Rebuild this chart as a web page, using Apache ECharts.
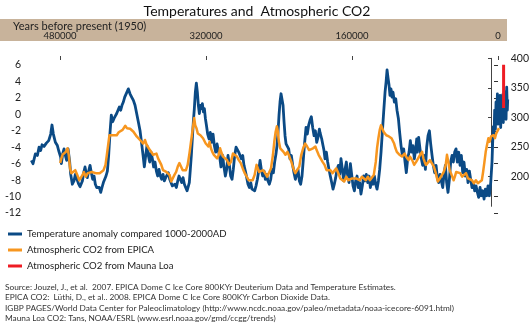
<!DOCTYPE html>
<html><head><meta charset="utf-8">
<script src="https://cdn.jsdelivr.net/npm/echarts@6/dist/echarts.min.js"></script>
<style>html,body{margin:0;padding:0;background:#fff}#c{width:532px;height:325px}</style>
</head><body><div id="c"></div>
<script>
// ages in thousand years before present (as drawn on the chart's axis)
const tempAge = [511.4,509.6,507.0,504.8,503.0,501.2,499.7,497.5,495.0,492.4,490.2,488.8,487.3,485.1,482.9,481.5,479.3,478.5,477.1,475.6,474.2,472.7,471.2,469.4,468.3,466.5,464.7,463.2,461.4,459.5,458.1,456.6,455.5,454.1,452.6,451.2,450.1,448.6,447.1,445.7,444.2,442.7,441.3,439.8,438.4,436.9,435.4,434.0,432.5,431.1,429.6,428.1,426.7,425.2,423.8,422.3,420.8,419.4,417.9,416.4,415.0,413.5,412.1,410.6,409.1,
407.3,405.1,403.3,401.5,399.6,397.8,396.0,394.2,392.3,390.5,389.0,387.6,386.1,384.7,383.2,381.7,380.3,378.8,377.4,375.9,374.4,373.0,371.5,370.0,368.6,367.1,365.7,364.2,362.7,361.3,359.8,358.4,356.9,355.4,354.0,352.5,351.0,349.6,348.1,346.7,345.2,343.7,342.3,340.8,339.4,338.3,337.2,336.1,335.0,333.9,332.8,331.7,330.6,329.5,328.4,327.3,326.2,325.1,324.0,322.9,321.8,320.7,319.6,318.2,316.7,315.3,313.8,312.3,310.9,309.4,307.9,306.5,305.0,303.6,
301.7,300.6,298.8,297.4,295.9,294.4,293.0,291.5,290.1,288.6,287.1,285.7,284.2,282.7,281.3,279.8,278.4,276.9,275.4,274.0,272.5,271.0,269.6,268.1,266.7,265.2,263.7,262.3,260.8,259.4,257.9,256.4,255.0,253.5,252.1,250.6,249.1,247.7,246.2,244.8,243.3,242.2,241.1,240.0,238.9,237.8,236.7,235.6,234.5,233.4,232.3,230.9,229.4,228.0,226.5,225.0,223.6,222.1,220.6,219.2,217.7,216.3,214.8,213.3,211.9,210.4,209.0,207.5,206.0,204.6,203.1,201.6,200.2,198.7,197.3,195.8,
195.1,193.2,191.8,190.7,189.6,188.1,186.7,185.2,183.8,182.3,180.8,179.4,177.9,176.4,175.0,173.5,172.1,170.6,169.1,167.7,166.2,164.8,163.3,161.8,160.4,158.9,157.4,156.0,154.5,153.1,151.6,150.2,148.7,147.2,145.8,144.3,142.8,141.4,139.9,138.5,137.0,135.5,134.1,132.6,131.1,129.7,128.2,126.8,125.3,123.8,122.7,121.6,120.5,119.5,118.4,117.3,116.2,115.1,113.6,112.1,110.7,109.2,107.8,106.3,104.8,103.4,101.9,100.5,99.0,97.5,96.1,94.6,93.2,91.7,90.2,
89.1,88.4,87.0,85.5,84.0,82.6,81.1,79.6,78.2,76.7,75.2,73.8,72.3,70.9,69.4,67.9,66.5,65.0,63.6,62.1,60.6,59.2,57.7,56.3,54.8,53.3,51.9,50.4,49.0,47.5,46.0,44.6,43.1,41.6,40.2,38.7,37.3,35.8,34.3,32.9,31.4,30.0,28.5,27.0,25.6,24.1,22.6,21.2,19.7,18.3,16.8,15.3,13.9,12.4,11.0,9.5,8.0,6.6,5.9,5.1,4.4,3.7,2.9,2.2,1.5,0.7,0.0,-0.7,-1.5,-2.2,-2.9,-3.7,-4.4,-5.1,-5.8,-6.6,-7.3,-8.0,-8.8,-9.5,-10.2,-10.6];
const tempVal = [-5.6,-6.0,-4.8,-5.0,-4.0,-4.4,-3.7,-3.9,-3.5,-3.2,-2.4,-1.3,-2.4,-3.4,-3.8,-4.4,-5.2,-6.0,-4.8,-4.2,-5.0,-5.6,-4.2,-5.8,-7.3,-8.5,-8.1,-7.3,-7.9,-8.5,-8.8,-8.9,-8.1,-7.1,-6.4,-7.3,-7.7,-6.9,-6.2,-7.1,-7.9,-7.5,-8.5,-8.9,-9.1,-8.9,-9.5,-8.9,-8.3,-8.5,-7.5,-6.9,-5.0,-2.2,-0.1,-0.9,-0.5,-0.7,0.1,-0.1,0.9,0.5,1.1,1.5,2.1,
2.2,3.1,2.5,2.1,1.7,1.1,0.1,-0.9,-2.0,-3.6,-5.0,-6.4,-5.0,-3.8,-5.0,-5.8,-4.6,-5.4,-6.4,-5.8,-6.9,-7.5,-6.7,-7.5,-7.9,-7.3,-8.1,-7.7,-7.9,-7.1,-7.9,-8.3,-8.7,-8.9,-8.5,-8.9,-8.1,-7.5,-7.9,-8.3,-7.7,-8.5,-8.9,-9.3,-9.5,-8.3,-6.7,-5.0,-3.0,-0.9,0.7,2.7,3.8,2.7,1.1,0.1,1.1,0.7,1.3,0.3,0.7,-0.5,-1.3,-2.4,-3.0,-2.2,-3.4,-2.4,-3.8,-4.6,-3.6,-4.4,-5.2,-6.4,
-5.0,-6.2,-7.5,-6.7,-5.0,-6.2,-7.5,-7.9,-6.7,-5.0,-4.0,-3.8,-4.6,-5.0,-5.4,-5.0,-6.2,-6.9,-7.7,-8.5,-8.9,-8.3,-9.1,-8.9,-9.3,-8.7,-7.9,-6.9,-5.6,-6.7,-7.5,-6.9,-7.9,-7.3,-8.1,-8.5,-7.9,-6.7,-7.1,-5.8,-4.8,-3.8,-2.2,-0.1,1.5,2.5,2.7,1.1,-0.9,-2.6,-3.6,-3.4,-4.2,-5.4,-5.0,-6.2,-7.1,-7.9,-7.3,-6.7,-8.1,-8.5,-7.5,-5.4,-3.4,-1.6,-2.4,-1.3,-0.7,-0.3,-1.6,-2.6,-2.0,-3.4,-2.8,-1.8,
-2.2,-3.0,-3.8,-4.4,-5.4,-4.6,-5.8,-6.7,-7.5,-8.3,-9.1,-8.5,-7.7,-6.7,-6.2,-7.3,-5.4,-6.7,-8.1,-6.7,-5.8,-7.5,-8.3,-6.0,-7.3,-8.7,-9.3,-8.1,-7.5,-8.9,-8.3,-9.7,-8.7,-7.5,-8.1,-7.3,-8.3,-7.5,-8.9,-7.9,-8.5,-7.5,-8.5,-9.1,-8.1,-6.7,-4.6,-2.2,0.3,2.7,3.9,5.4,4.4,3.6,2.3,3.1,2.1,2.7,1.5,1.9,0.5,-0.5,-2.2,-3.8,-5.0,-4.2,-5.8,-7.1,-5.4,-4.6,-3.2,-4.6,-3.8,-5.4,-4.2,
-3.0,-4.6,-2.8,-4.2,-5.4,-6.2,-5.0,-6.7,-4.0,-2.6,-2.0,-3.6,-5.0,-6.2,-7.1,-6.2,-7.7,-8.3,-7.3,-8.1,-8.9,-7.3,-6.2,-8.3,-9.5,-7.9,-5.8,-5.0,-5.8,-4.6,-4.2,-5.8,-4.6,-6.2,-5.0,-7.1,-5.8,-7.5,-6.7,-8.3,-6.9,-7.9,-8.9,-8.3,-9.3,-8.7,-9.5,-10.1,-8.9,-9.9,-9.3,-10.3,-9.1,-9.9,-8.7,-9.9,-8.3,-5.8,-3.5,-1.5,-2.8,0.5,-1.8,1.5,-0.8,2.5,-1.2,1.9,-0.5,2.3,-1.6,1.2,-0.8,2.4,-1.0,2.8,0.0,2.0,-0.6,3.3,0.5,1.8];

const co2Age = [479.3,478.2,476.7,474.9,473.1,471.2,469.8,468.3,466.9,464.7,462.5,460.3,458.1,455.9,454.4,453.0,450.8,448.6,446.4,444.2,442.0,439.8,437.6,435.4,433.2,431.1,428.9,427.4,425.9,424.5,423.0,420.8,418.6,416.4,414.2,412.1,409.9,
408.8,406.9,405.1,403.3,401.5,399.6,397.8,396.0,394.2,392.3,390.5,388.7,386.9,385.0,383.2,381.4,379.5,377.7,375.9,374.1,372.2,370.4,368.6,366.8,364.9,363.1,361.3,359.5,357.6,355.8,354.0,352.2,350.3,348.5,346.7,344.8,343.0,341.2,339.4,337.5,335.7,334.2,332.8,331.3,330.2,329.1,327.7,326.2,324.7,323.3,321.8,320.4,318.9,317.4,316.0,314.5,313.1,311.6,310.1,308.3,306.5,304.7,302.8,
301.4,300.3,298.1,295.9,293.7,291.5,289.3,287.1,284.9,282.7,280.6,278.4,276.2,274.0,271.8,269.6,267.4,265.2,263.0,260.8,259.4,257.9,255.7,253.5,251.3,249.1,247.0,244.8,242.6,241.1,239.6,238.2,237.1,236.0,234.5,233.1,230.9,228.7,226.5,224.3,222.1,219.9,217.7,215.5,213.3,211.1,209.0,206.8,204.6,202.4,200.2,198.0,
195.4,194.0,191.8,189.6,187.4,185.2,183.0,180.8,178.6,176.4,174.3,172.1,169.9,167.7,165.5,163.3,161.1,158.9,156.7,154.5,152.3,150.2,148.0,145.8,143.6,141.4,139.2,137.0,134.8,132.6,130.4,128.2,126.8,125.3,123.8,122.4,120.9,119.5,118.0,116.5,115.1,113.6,112.1,110.7,109.2,107.8,106.3,104.8,103.4,101.9,100.5,99.0,97.5,96.1,94.6,93.2,91.7,90.2,
89.1,87.7,85.5,83.3,81.1,78.9,76.7,75.2,73.8,72.3,70.1,67.9,65.8,63.6,61.4,59.2,57.0,54.8,53.3,51.9,50.4,49.0,47.5,46.0,44.6,43.1,41.6,40.2,38.7,36.5,34.3,32.1,30.0,27.8,25.6,23.4,21.2,19.0,16.8,14.6,12.4,10.2,8.8,7.3,5.9,4.4,2.9,1.5,0.0,-1.5,-2.9,-4.4,-5.8,-7.3,-8.8];
const co2Val = [223,230,237,234,242,248,237,214,206,208,211,203,194,197,203,208,200,206,203,208,206,206,207,206,208,211,220,237,254,270,273,270,273,270,275,273,279,
282,286,282,285,281,282,276,273,268,270,262,265,256,262,254,251,245,242,237,234,239,231,228,220,211,214,208,211,203,192,194,203,208,217,223,220,211,208,211,220,237,254,270,287,299,287,282,273,276,270,273,265,262,256,259,251,259,248,242,237,239,231,237,
248,242,234,237,228,220,225,239,237,234,228,223,214,206,200,194,197,194,203,220,214,208,206,211,206,200,203,214,237,259,276,285,276,259,248,245,242,237,242,234,225,214,206,208,217,237,248,256,251,245,242,248,
251,245,237,231,225,220,211,208,211,206,203,214,206,197,200,192,200,194,192,197,194,197,200,194,200,197,194,200,194,192,203,225,248,265,279,287,285,276,279,270,273,268,270,265,262,256,248,242,245,237,239,234,237,239,234,237,228,234,
234,228,220,225,228,237,242,231,225,220,217,228,231,217,206,192,197,200,206,211,220,237,225,211,206,208,194,200,208,211,206,200,197,206,197,200,194,189,194,189,192,194,208,225,242,254,265,259,268,265,270,265,273,276,282];

const maunaAge = [-14,-14,-14,-14,-14,-14];
const maunaVal = [316,325,339,354,370,389];

const topTicks = [480, 320, 160, 0];          // kyr BP, labelled x1000
const tempTicks = [-12, 6, 2];                 // min, max, step
const co2Ticks = [200, 250, 300, 350, 400];

const names = ['Temperature anomaly compared 1000-2000AD','Atmospheric CO2 from EPICA','Atmospheric CO2 from Mauna Loa'];
const sourceLines = [
  'Source: Jouzel, J., et al.  2007. EPICA Dome C Ice Core 800KYr Deuterium Data and Temperature Estimates.',
  'EPICA CO2:  L\u00fcthi, D., et al.. 2008. EPICA Dome C Ice Core 800KYr Carbon Dioxide Data.',
  'IGBP PAGES/World Data Center for Paleoclimatology (http://www.ncdc.noaa.gov/paleo/metadata/noaa-icecore-6091.html)',
  'Mauna Loa CO2: Tans, NOAA/ESRL (www.esrl.noaa.gov/gmd/ccgg/trends)'
];

const zip = (a, b) => a.map((v, i) => [v, b[i]]);
const FONT = 'Lato';
const AX_MIN = -18.6, AX_MAX = 512.9;

const chart = echarts.init(document.getElementById('c'), null, {renderer: 'canvas'});
chart.setOption({
  animation: false,
  backgroundColor: '#fff',
  textStyle: {fontFamily: FONT},
  grid: [
    {left: 30, right: 17, top: 65, height: 148},
    {left: 30, right: 17, top: 58.3, height: 148},
    {left: 60, right: 34, top: 50, height: 10}
  ],
  xAxis: [
    {gridIndex: 0, type: 'value', min: AX_MIN, max: AX_MAX, inverse: true, show: false},
    {gridIndex: 1, type: 'value', min: AX_MIN, max: AX_MAX, inverse: true, show: false},
    {gridIndex: 2, type: 'value', position: 'top', min: topTicks[3], max: topTicks[0], interval: topTicks[1]-topTicks[2], inverse: true,
     axisLine: {show: false}, splitLine: {show: false},
     axisTick: {show: true, inside: false, length: 4, lineStyle: {color: '#444', width: 1}},
     axisLabel: {margin: 9, fontSize: 9.5, color: '#222', fontFamily: FONT, formatter: v => String(v * 1000)}}
  ],
  yAxis: [
    {gridIndex: 0, type: 'value', position: 'left', min: tempTicks[0], max: tempTicks[1], interval: tempTicks[2],
     axisLine: {show: false}, splitLine: {show: false},
     axisTick: {show: true, length: 4, lineStyle: {color: '#333'}},
     axisLabel: {margin: 9, fontSize: 10.5, color: '#222', fontFamily: FONT}},
    {gridIndex: 1, type: 'value', position: 'right', min: 150, max: 400, interval: 50,
     axisLine: {show: true, lineStyle: {color: '#444', width: 1}}, splitLine: {show: false},
     axisTick: {show: true, inside: true, length: 3, lineStyle: {color: '#444'}, customValues: co2Ticks},
     axisLabel: {margin: 3, fontSize: 10.5, color: '#222', fontFamily: FONT, customValues: co2Ticks,
       formatter: v => (co2Ticks.indexOf(v) >= 0 ? String(v) : '')}},
    {gridIndex: 2, type: 'value', show: false}
  ],
  legend: {
    orient: 'vertical', left: 8, top: 227.5, padding: 0, itemGap: 3, itemWidth: 14, itemHeight: 3, icon: 'rect',
    textStyle: {fontSize: 9.6, color: '#222', fontFamily: FONT, lineHeight: 13, padding: [0,0,0,0]},
    data: names
  },
  series: [
    {name: names[0], type: 'line', xAxisIndex: 0, yAxisIndex: 0, data: zip(tempAge, tempVal),
     showSymbol: false, symbol: 'none', z: 2, color: '#0b4a85',
     lineStyle: {color: '#0b4a85', width: 2.8, join: 'round'}},
    {name: names[1], type: 'line', xAxisIndex: 1, yAxisIndex: 1, data: zip(co2Age, co2Val),
     showSymbol: false, symbol: 'none', z: 3, color: '#f7961f',
     lineStyle: {color: '#f7961f', width: 2.5, join: 'round'}},
    {name: names[2], type: 'line', xAxisIndex: 1, yAxisIndex: 1, data: zip(maunaAge, maunaVal),
     showSymbol: false, symbol: 'none', z: 4, color: '#ee1c24',
     lineStyle: {color: '#ee1c24', width: 3}}
  ],
  graphic: [
    {type: 'rect', z: -100, silent: true, shape: {x: 0, y: 19, width: 507, height: 22}, style: {fill: '#c8b39b'}},
    {type: 'text', z: 10, silent: true, style: {x: 257, y: 11, text: 'Temperatures and  Atmospheric CO2', textAlign: 'center', textVerticalAlign: 'middle', font: '14px Lato', fill: '#111'}},
    {type: 'text', z: 10, silent: true, style: {x: 13, y: 26, text: 'Years before present (1950)', textVerticalAlign: 'middle', font: '11px Lato', fill: '#222'}},
    ...sourceLines.map((t, i) => ({type: 'text', z: 10, silent: true,
      style: {x: 5, y: [287, 297.5, 308, 318.5][i], text: t, textVerticalAlign: 'middle', font: '8.3px Lato', fill: '#333'}}))
  ]
});
</script>
</body></html>
